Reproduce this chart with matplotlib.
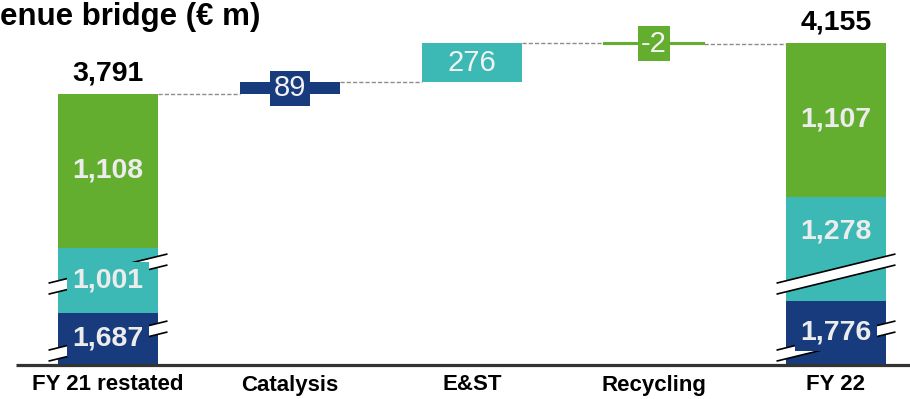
import matplotlib.pyplot as plt
from matplotlib.patches import Polygon

plt.rcParams["font.family"] = ["Liberation Sans", "DejaVu Sans"]

categories = ["FY 21 restated", "Catalysis", "E&ST", "Recycling", "FY 22"]
fy21_parts = [1687, 1001, 1108]   # bottom → top
fy22_parts = [1776, 1278, 1107]
totals = [3791, 4155]
deltas = [89, 276, -2]

BLUE = "#173b7c"
TEAL = "#3db9b5"
GREEN = "#63ad2f"
seg_colors = [BLUE, TEAL, GREEN]
delta_colors = [BLUE, TEAL, GREEN]

# broken axis: lower two segments are drawn shortened by these amounts
CUTS = [1320, 530, 0]
CUT_TOTAL = 1850
BREAK_Y = [165, 647]

W_PX, H_PX = 910, 399
X_PX = 182.0          # pixels per category step
Y_PX = 0.139          # pixels per € m
BASE_PX = 364         # baseline from top
BAR_W = 100 / X_PX


def draw_break(ax, xc, yc):
    hw, g, s = 59.5 / X_PX, 5.5 / Y_PX, 0.245 * X_PX / Y_PX
    dy = hw * s
    pts = [(xc - hw, yc - dy - g), (xc + hw, yc + dy - g),
           (xc + hw, yc + dy + g), (xc - hw, yc - dy + g)]
    ax.add_patch(Polygon(pts, closed=True, facecolor="white", edgecolor="none", zorder=3))
    for sgn in (-1, 1):
        ax.plot([xc - hw, xc + hw], [yc - dy + sgn * g, yc + dy + sgn * g],
                color="black", lw=1.2, zorder=3.5, solid_capstyle="butt")


def main():
    fig = plt.figure(figsize=(W_PX / 100, H_PX / 100), dpi=100)
    ax = fig.add_axes([0, (H_PX - BASE_PX) / H_PX, 1, BASE_PX / H_PX])
    ax.set_xlim(-108 / X_PX, (W_PX - 108) / X_PX)
    ax.set_ylim(0, BASE_PX / Y_PX)
    ax.axis("off")

    label_kw = dict(ha="center", va="center", fontsize=20.5, fontweight="bold",
                    color="#ececec", zorder=5)

    # stacked totals at both ends
    for xi, parts, total, shifts in ((0, fy21_parts, totals[0], [0, 0, 0]),
                                     (4, fy22_parts, totals[1], [0, 122, 0])):
        bottom = 0
        for k, (v, c) in enumerate(zip(parts, seg_colors)):
            h = v - CUTS[k]
            ax.bar(xi, h, bottom=bottom, width=BAR_W, color=c, zorder=2)
            box = None
            if k < 2:
                box = dict(boxstyle="square,pad=0.2", facecolor=c, edgecolor="none")
            ax.text(xi, bottom + h / 2 + shifts[k], f"{v:,}", bbox=box, **label_kw)
            bottom += h
        for by in BREAK_Y:
            draw_break(ax, xi, by)
        ax.annotate(f"{total:,}", (xi, total - CUT_TOTAL), xytext=(0, 15),
                    textcoords="offset points", ha="center", va="center",
                    fontsize=20.5, fontweight="bold", color="black")

    # floating deltas
    level = totals[0] - CUT_TOTAL
    levels = [level]
    for i, (d, c) in enumerate(zip(deltas, delta_colors)):
        xi = i + 1
        ax.bar(xi, d, bottom=level, width=BAR_W, color=c, edgecolor=c,
               lw=1.5 if abs(d) < 10 else 0, zorder=2)
        mid = level + d / 2
        box = None if d > 150 else dict(boxstyle="square,pad=0.12",
                                         facecolor=c, edgecolor="none")
        ax.text(xi, mid, f"{d:,}", ha="center", va="center", fontsize=21,
                color="#f2f2f2", bbox=box, zorder=5)
        level += d
        levels.append(level)

    # dashed connectors between bars
    for i, lv in enumerate(levels):
        ax.plot([i + BAR_W / 2, i + 1 - BAR_W / 2], [lv, lv], color="#8c8c8c",
                lw=1, ls=(0, (3, 1.5)), zorder=1)

    # baseline
    ax.plot([(16 - 108) / X_PX, (W_PX - 108) / X_PX], [-1 / Y_PX] * 2,
            color="#333333", lw=2.3, zorder=4, clip_on=False, solid_capstyle="butt")

    for i, name in enumerate(categories):
        ax.text(i, -21 / Y_PX, name, ha="center", va="center", fontsize=16,
                fontweight="bold", color="black", clip_on=False)

    fig.text(0, 1 - 25 / H_PX, "enue bridge (€ m)", ha="left",
             va="baseline", fontsize=22.5, fontweight="bold")

    fig.savefig("out.png", dpi=100)
    plt.close(fig)


if __name__ == "__main__":
    main()
